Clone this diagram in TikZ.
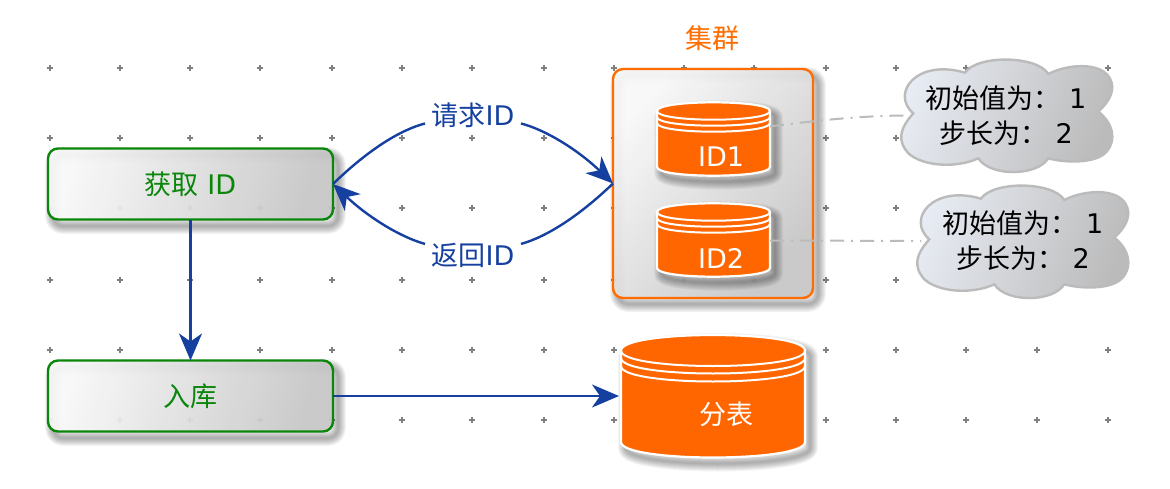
\documentclass[tikz,border=0pt]{standalone}
\usepackage{fontspec}
\setmainfont{DejaVu Sans}
\newfontfamily\cjk{Noto Sans CJK SC}[Scale=1.0]
\usetikzlibrary{arrows.meta}
\definecolor{linkblue}{HTML}{1540A0}
\definecolor{boxgreen}{HTML}{0A860A}
\definecolor{clusterorange}{HTML}{FF6D00}
\definecolor{cylorange}{HTML}{FF6600}
\definecolor{crossgray}{HTML}{808080}
\definecolor{notegray}{HTML}{BBBBBB}
\definecolor{cloudlight}{HTML}{E8ECF4}
\definecolor{clouddark}{HTML}{BBBBBB}
\definecolor{boxlight}{HTML}{F8F8F8}
\definecolor{boxdark}{HTML}{C6C6C6}
\tikzset{
  flowbox/.style={rectangle,rounded corners=10pt,draw=boxgreen,line width=2.4pt,
    left color=boxlight,right color=boxdark,shading angle=75,
    fill opacity=.93,text opacity=1,text=boxgreen,outer sep=0pt,
    minimum width=285pt,minimum height=71pt,inner sep=0pt},
  clusterbox/.style={rectangle,rounded corners=10pt,draw=clusterorange,line width=2.4pt,
    left color=boxlight,right color=boxdark,shading angle=50,
    fill opacity=.93,outer sep=0pt,minimum width=200pt,minimum height=229pt,inner sep=0pt},
  anchorbox/.style={rectangle,inner sep=0pt,outer sep=0pt},
  cyltext/.style={text=white,inner sep=0pt},
  linklabel/.style={text=linkblue,inner sep=0pt,outer sep=0pt,minimum width=96pt,minimum height=30pt},
  notetext/.style={text=black,align=center,inner sep=0pt,outer sep=0pt,minimum width=204pt,minimum height=60pt},
  link/.style={draw=linkblue,line width=2.4pt,-{Stealth[length=27pt,width=23pt,inset=8pt]}},
  linkplain/.style={draw=linkblue,line width=2.4pt},
  noteline/.style={draw=notegray,line width=2pt,dash pattern=on 14pt off 7pt on 2pt off 7pt},
  cloudshape/.style={draw=notegray,line width=2.4pt,left color=cloudlight,right color=clouddark,shading angle=70},
  crossmark/.style={draw=crossgray,line width=1.7pt},
  softshadow/.style={draw=black,draw opacity=.045,line join=round}
}
% x1,x2,rim,ry,end,gap1,gap2
\newcommand\CylBody[5]{(#1,#3) .. controls (#1,#3-#4*1.333) and (#2,#3-#4*1.333) .. (#2,#3) -- (#2,#5) .. controls (#2,#5+#4*1.333) and (#1,#5+#4*1.333) .. (#1,#5) -- cycle}
\newcommand\DrawCyl[7]{%
  \foreach \k in {16,14,12,10,8,6,4,2}{\draw[softshadow,line width=\k pt,shift={(5,6)}] \CylBody{#1}{#2}{#3}{#4}{#5};}
  \filldraw[fill=cylorange,draw=white,line width=2.2pt] \CylBody{#1}{#2}{#3}{#4}{#5};
  \foreach \d in {0,#6,#7}{\draw[white,line width=2pt] (#1,#3+\d) .. controls (#1,#3+\d+#4*1.333) and (#2,#3+\d+#4*1.333) .. (#2,#3+\d);}
}
\newcommand\ShadowBox[4]{%
  \foreach \k in {16,14,12,10,8,6,4,2}{\draw[softshadow,line width=\k pt,rounded corners=10pt] (#1+5,#2+6) rectangle (#3+5,#4+6);}
}
\newcommand\CloudOutline{(100,190) .. controls (30,130) and (110,25) .. (255,68)
  .. controls (290,15) and (470,15) .. (505,72)
  .. controls (565,40) and (690,30) .. (697,110)
  .. controls (697,145) and (670,170) .. (655,185)
  .. controls (700,220) and (710,270) .. (680,305)
  .. controls (650,340) and (560,340) .. (505,325)
  .. controls (470,380) and (330,380) .. (295,325)
  .. controls (230,355) and (130,350) .. (85,310)
  .. controls (50,270) and (60,235) .. (100,190) -- cycle}
\begin{document}
\begin{tikzpicture}[x=1pt,y=-1pt]
\fontsize{27}{35}\selectfont
\useasboundingbox (0,0) rectangle (1170,488);
\fill[white] (0,0) rectangle (1170,488);
% dot grid
\foreach \gx in {50,120,190,260,332,402,472,544,614,684,754,826,896,966,1037,1108}
  \foreach \gy in {68,138,208,280,350,420}
    \draw[crossmark] (\gx-3.4,\gy) -- (\gx+3.4,\gy) (\gx,\gy-3.4) -- (\gx,\gy+3.4);
% shadows and boxes
\ShadowBox{48}{149}{333}{220}
\ShadowBox{48}{361}{333}{432}
\ShadowBox{613}{69}{813}{298}
\node[flowbox] (get) at (190.5,184) {{\cjk 获取} ID};
\node[flowbox] (store) at (190.5,396) {\cjk 入库};
\node[clusterbox] (cluster) at (713,183.5) {};
\node[text=clusterorange,inner sep=0pt] (clustertitle) at (712.5,38) {\cjk 集群};
% cylinders
\DrawCyl{657}{770}{111}{8.7}{167}{6}{12}
\DrawCyl{657}{770}{212}{8.7}{268}{6}{12}
\DrawCyl{621}{805}{350.5}{15.5}{442}{7.5}{15.5}
\node[anchorbox,minimum width=113pt,minimum height=73pt] (db1) at (713.5,139.5) {};
\node[anchorbox,minimum width=113pt,minimum height=75pt] (db2) at (713.5,240.5) {};
\node[anchorbox,minimum width=186pt,minimum height=121pt] (table) at (712,396) {};
\node[cyltext] (db1text) at (721,157) {ID1};
\node[cyltext] (db2text) at (721,258) {ID2};
\node[cyltext] (tabletext) at (726,414) {\cjk 分表};
% clouds
\begin{scope}[shift={(880,50)},x=.3333pt,y=-.3333pt]
  \path[cloudshape] \CloudOutline;
\end{scope}
\begin{scope}[shift={(896,176)},x=.3333pt,y=-.3333pt]
  \path[cloudshape] \CloudOutline;
\end{scope}
\node[notetext] (note1) at (1006,115.5) {{\cjk 初始值为：} 1\\{\cjk 步长为：} 2};
\node[notetext] (note2) at (1023,241) {{\cjk 初始值为：} 1\\{\cjk 步长为：} 2};
% link labels
\node[linklabel] (req) at (473,115) {{\cjk 请求}ID};
\node[linklabel] (ret) at (473,255) {{\cjk 返回}ID};
% connectors
\draw[link] (get.south) -- (store.north);
\draw[link] (store.east) -- (table.west);
\draw[linkplain] (get.east) .. controls (368,150) and (400,130) .. (req.190);
\draw[link] (req.-10) .. controls (546,130) and (578,150) .. (cluster.west);
\draw[linkplain] (cluster.west) .. controls (578,217) and (546,237) .. (ret.13);
\draw[link] (ret.167) .. controls (400,237) and (368,217) .. (get.east);
\draw[noteline] (db1.13) .. controls (820,120) and (860,116) .. (note1.west);
\draw[noteline] (db2.east) -- (note2.west);
\end{tikzpicture}
\end{document}
